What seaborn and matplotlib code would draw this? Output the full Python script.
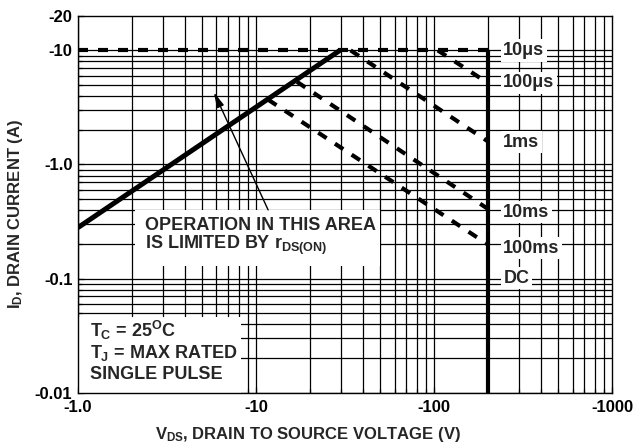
import matplotlib
matplotlib.use('Agg')
import matplotlib.pyplot as plt
import pandas as pd
import seaborn as sns
from matplotlib.patches import Rectangle
from matplotlib.ticker import NullFormatter

# Safe operating area (magnitudes, the tick labels carry the minus sign)
rds_v = [1.0, 29.6]
rds_i = [0.28, 10.0]

pulse_names = ['10\u03bcs', '100\u03bcs', '1ms', '10ms', '100ms']
pulse_v_start = [1.0, 105.0, 34.0, 17.0, 11.7]
pulse_i_start = [10.0, 10.0, 10.0, 5.3, 3.7]
pulse_i_end = [10.0, 5.2, 1.6, 0.41, 0.2]

bvdss_v = [200.0, 200.0]
bvdss_i = [10.0, 0.01]

label_names = ['10\u03bcs', '100\u03bcs', '1ms', '10ms', '100ms', 'DC']
label_i = [10.0, 5.18, 1.57, 0.383, 0.185, 0.101]

x_ticks = [1, 10, 100, 1000]
x_ticklabels = ['-1.0', '-10', '-100', '-1000']
y_ticks = [0.01, 0.1, 1, 10, 20]
y_ticklabels = ['-0.01', '-0.1', '-1.0', '-10', '-20']

sns.set_style("ticks")
plt.rcParams['font.family'] = ['Liberation Sans', 'DejaVu Sans']
plt.rcParams['font.weight'] = 'bold'
plt.rcParams['mathtext.fontset'] = 'custom'
plt.rcParams['mathtext.rm'] = 'Liberation Sans:bold'
plt.rcParams['mathtext.it'] = 'Liberation Sans:bold'
plt.rcParams['mathtext.bf'] = 'Liberation Sans:bold'
plt.rcParams['mathtext.sf'] = 'Liberation Sans:bold'

# pulse curves as one frame, one unit per curve
rows = []
for name, v0, i0, i1 in zip(pulse_names, pulse_v_start, pulse_i_start, pulse_i_end):
    rows.append((name, v0, i0))
    rows.append((name, bvdss_v[0], i1))
df_p = pd.DataFrame(rows, columns=['curve', 'V', 'I'])

fig = plt.figure(figsize=(6.34, 4.48), dpi=100)
ax = fig.add_axes([0.123, 0.1234, 0.8423, 0.8408])
ax.set_xscale('log')
ax.set_yscale('log')
ax.set_xlim(1, 1000)
ax.set_ylim(0.01, 20)

# chart paper grid
for d in [1, 10, 100]:
    for k in range(1, 10):
        ax.axvline(k * d, color='black', lw=0.9, zorder=1)
for d in [0.01, 0.1, 1]:
    for k in range(1, 10):
        ax.axhline(k * d, color='black', lw=0.9, zorder=1)
ax.axhline(10, color='black', lw=0.9, zorder=1)

sns.lineplot(data=df_p, x='V', y='I', units='curve', estimator=None,
             color='black', lw=3, linestyle=(0, (2.4, 2.4)), ax=ax, legend=False)
sns.lineplot(x=rds_v, y=rds_i, estimator=None, color='black', lw=3.6,
             solid_capstyle='butt', ax=ax)
sns.lineplot(x=bvdss_v, y=bvdss_i, estimator=None, sort=False, color='black', lw=3,
             solid_capstyle='butt', ax=ax)

# white masks behind the notes
ax.add_patch(Rectangle((0, 0), 0.305, 0.201, transform=ax.transAxes,
                       facecolor='white', edgecolor='none', zorder=1.5))
ax.add_patch(Rectangle((0.107, 0.336), 0.459, 0.149, transform=ax.transAxes,
                       facecolor='white', edgecolor='none', zorder=1.5))

ax.text(0.1255, 0.445, 'OPERATION IN THIS AREA', transform=ax.transAxes,
        ha='left', va='center', fontsize=13)
ax.text(0.1255, 0.392, 'IS LIMITED BY $r_{DS(ON)}$', transform=ax.transAxes,
        ha='left', va='center', fontsize=13)

ax.text(0.0225, 0.166, '$T_C$ = 25$^O$C', transform=ax.transAxes,
        ha='left', va='center', fontsize=13)
ax.text(0.0225, 0.105, '$T_J$ = MAX RATED', transform=ax.transAxes,
        ha='left', va='center', fontsize=13)
ax.text(0.0225, 0.0496, 'SINGLE PULSE', transform=ax.transAxes,
        ha='left', va='center', fontsize=13)

for name, yi in zip(label_names, label_i):
    ax.text(245, yi, name, ha='left', va='center', fontsize=13, zorder=3,
            bbox=dict(boxstyle='square,pad=0.15', facecolor='white', edgecolor='none'))

ax.annotate('', xy=(5.8, 4.3), xytext=(11.7, 0.40),
            arrowprops=dict(arrowstyle='-|>,head_length=0.9,head_width=0.22',
                            lw=1, color='black', shrinkA=0, shrinkB=0),
            zorder=4)

ax.set_xticks(x_ticks)
ax.set_xticklabels(x_ticklabels)
ax.set_yticks(y_ticks)
ax.set_yticklabels(y_ticklabels)
ax.xaxis.set_minor_formatter(NullFormatter())
ax.yaxis.set_minor_formatter(NullFormatter())
ax.tick_params(which='both', direction='in', width=0.9, colors='black', labelsize=12)
ax.tick_params(which='major', length=4)
ax.tick_params(which='minor', length=3)
ax.tick_params(axis='x', pad=5)
ax.tick_params(axis='y', pad=4)
for s in ax.spines.values():
    s.set_color('black')
    s.set_linewidth(1.0)

ax.set_xlabel('$V_{DS}$, DRAIN TO SOURCE VOLTAGE (V)', fontsize=12, fontweight='bold')
ax.set_ylabel('$I_D$, DRAIN CURRENT (A)', fontsize=12, fontweight='bold')
ax.xaxis.set_label_coords(0.431, -0.086)
ax.yaxis.set_label_coords(-0.099, 0.474)

fig.savefig('out.png', dpi=100)
